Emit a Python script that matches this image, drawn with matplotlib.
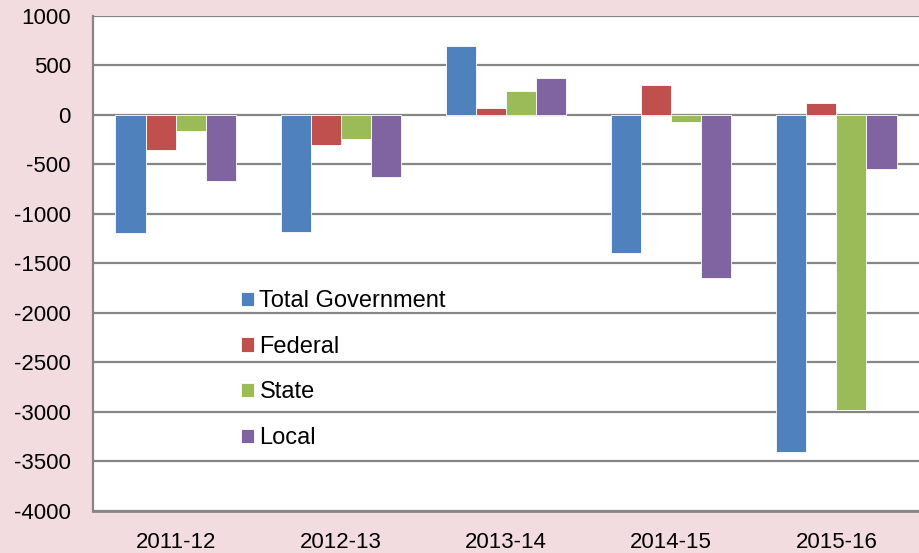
from matplotlib import pyplot as plt
import numpy as np

years = ["2011-12", "2012-13", "2013-14", "2014-15", "2015-16"]
total_gov = [-1190, -1182, 692, -1398, -3400]
federal = [-355, -301, 71, 304, 114]
state = [-166, -243, 236, -75, -2985]
local = [-673, -632, 375, -1645, -551]

series_names = ["Total Government", "Federal", "State", "Local"]
colors = ["#4F81BD", "#C0504D", "#9BBB59", "#8064A2"]

plt.rcParams['font.family'] = ['Liberation Sans', 'DejaVu Sans']
plt.rcParams['axes.unicode_minus'] = False

fig = plt.figure(figsize=(9.2, 5.53), dpi=100)
fig.patch.set_facecolor("#F2DCE0")
ax = fig.add_axes([93/920, 1 - 511/553, (919 - 93)/920, (511 - 15.7)/553])
ax.set_facecolor("white")

x = np.arange(len(years))
bar_w = 0.182
all_series = [total_gov, federal, state, local]
for i, vals in enumerate(all_series):
	offs = (i - 1.5) * bar_w
	ax.bar(x + offs, vals, bar_w, color=colors[i], label=series_names[i],
		edgecolor="white", linewidth=0.6, zorder=3)

ax.set_xlim(-0.5, len(years) - 0.5)
ax.set_ylim(-4000, 1000)
ax.set_yticks(np.arange(-4000, 1001, 500))
ax.set_xticks(x)
ax.set_xticklabels(years)
ax.grid(axis='y', color="#868686", linewidth=1.6, zorder=1)
ax.tick_params(axis='both', length=0, labelsize=16, colors="black")
ax.tick_params(axis='x', pad=15)
ax.tick_params(axis='y', pad=16)

for s in ["top", "right"]:
	ax.spines[s].set_visible(False)
ax.spines["left"].set_color("#868686")
ax.spines["left"].set_linewidth(1.6)
ax.spines["bottom"].set_color("#868686")
ax.spines["bottom"].set_linewidth(2)

leg = ax.legend(loc="upper left", bbox_to_anchor=(220/920, 1 - 269/553),
	bbox_transform=fig.transFigure, frameon=False, fontsize=17,
	handlelength=0.55, handleheight=0.55, handletextpad=0.22, labelspacing=1.0)

fig.savefig("out.png", dpi=100, facecolor=fig.get_facecolor())
